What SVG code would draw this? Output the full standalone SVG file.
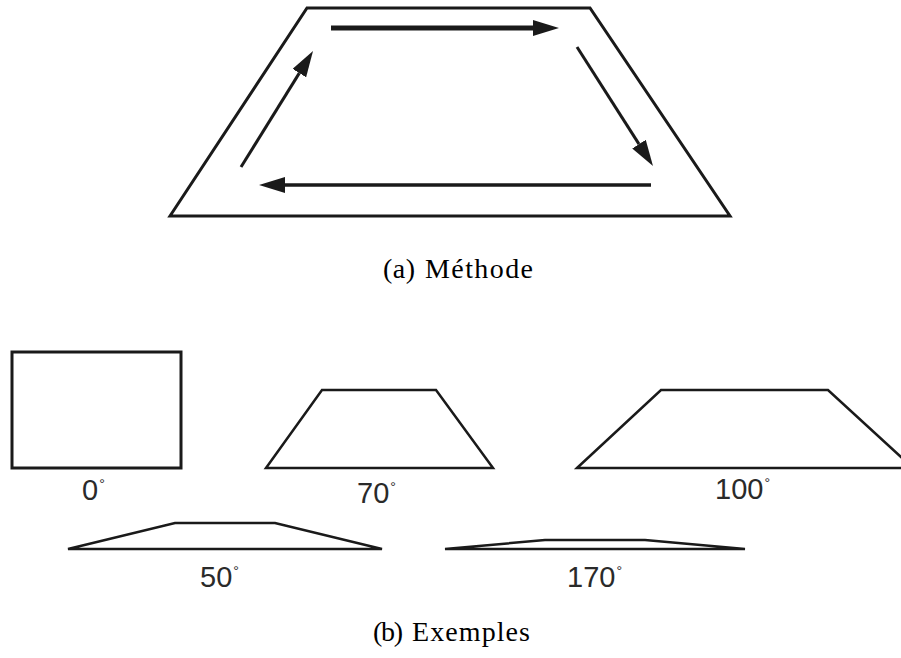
<svg xmlns="http://www.w3.org/2000/svg" width="901" height="658" viewBox="0 0 901 658">
<style>
.shape{fill:none;stroke:#1a1a1a;stroke-linejoin:miter;stroke-miterlimit:4}
.arrow{stroke:#1a1a1a;fill:none}
.num{font-family:"Liberation Sans",Arial,sans-serif;font-size:29px;fill:#2a2a2a}
.deg{font-size:14px}
.cap{font-family:"Liberation Serif","Times New Roman",serif;font-size:28px;fill:#000}
</style>
<defs>
<marker id="head" markerUnits="userSpaceOnUse" markerWidth="26" markerHeight="16" refX="0" refY="8" orient="auto" viewBox="0 0 26 16">
<path d="M0,0 L26,8 L0,16 Z" fill="#1a1a1a"/>
</marker>
</defs>
<rect width="901" height="658" fill="#fff"/>

<g id="method">
<polygon class="shape" stroke-width="3" points="170,216 307,8 590,8 730,216"/>
</g>

<g id="connectors">
<line class="arrow" stroke-width="5" x1="331" y1="28" x2="533" y2="28" marker-end="url(#head)"/>
<line class="arrow" stroke-width="3" x1="577" y1="47" x2="639" y2="144.1" marker-end="url(#head)"/>
<line class="arrow" stroke-width="3.5" x1="651" y1="185" x2="285" y2="185" marker-end="url(#head)"/>
<line class="arrow" stroke-width="3" x1="241" y1="167" x2="299.3" y2="73.1" marker-end="url(#head)"/>
</g>

<g id="caption-a">
<text class="cap" y="278"><tspan x="383" textLength="32">(a)</tspan><tspan x="425" textLength="108">Méthode</tspan></text>
</g>

<g id="ex0">
<rect class="shape" stroke-width="3" x="12" y="352" width="169" height="116"/>
<text class="num" x="82" y="500">0<tspan class="deg" dx="1" dy="-11">°</tspan></text>
</g>

<g id="ex70">
<polygon class="shape" stroke-width="2.5" points="266,468 322,390 436,390 493,468"/>
<text class="num" x="357" y="503">70<tspan class="deg" dx="1" dy="-11">°</tspan></text>
</g>

<g id="ex100">
<polygon class="shape" stroke-width="2.5" points="577,468 661,390 828,390 913,468"/>
<text class="num" x="715" y="499">100<tspan class="deg" dx="1" dy="-11">°</tspan></text>
</g>

<g id="ex50">
<polygon class="shape" stroke-width="2.5" points="68,549 175,523 275,523 382,549"/>
<text class="num" x="200" y="587">50<tspan class="deg" dx="1" dy="-11">°</tspan></text>
</g>

<g id="ex170">
<polygon class="shape" stroke-width="2.5" points="445,549 545,540 645,540 745,549"/>
<text class="num" x="567" y="587">170<tspan class="deg" dx="1" dy="-11">°</tspan></text>
</g>

<g id="caption-b">
<text class="cap" y="641"><tspan x="373" textLength="30">(b)</tspan><tspan x="412" textLength="118">Exemples</tspan></text>
</g>
</svg>
